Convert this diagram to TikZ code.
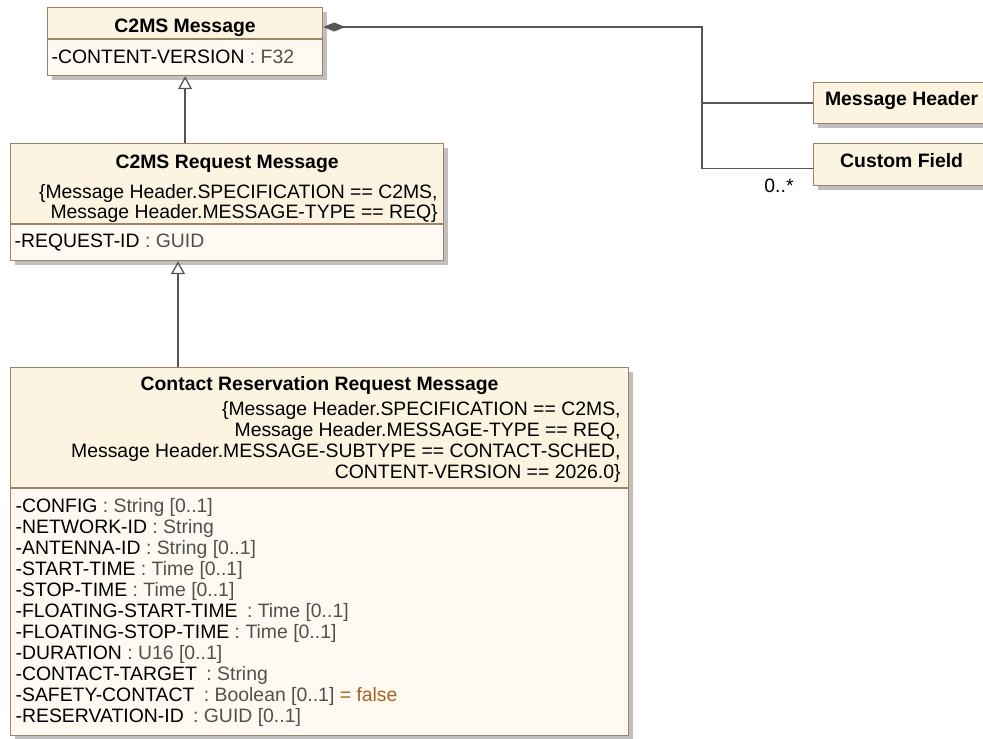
\documentclass[tikz,border=0pt]{standalone}
\usepackage{fontspec}
\setmainfont{Liberation Sans}
\usetikzlibrary{arrows.meta,shadows}
\definecolor{clshead}{HTML}{FCF3E0}
\definecolor{clsbody}{HTML}{FEFAF1}
\definecolor{clsline}{HTML}{9E8467}
\definecolor{typegray}{HTML}{505050}
\definecolor{dfltcol}{HTML}{A8641E}
\definecolor{wirecol}{HTML}{555555}
\newcommand{\umlfont}{\fontsize{19.4}{21}\selectfont}
\newcommand{\attrtype}[1]{\textcolor{typegray}{#1}}

\begin{document}
\begin{tikzpicture}[x=1pt, y=-1pt, line width=1.2pt,
  every node/.append style={font=\umlfont, inner sep=0pt},
  cls/.style={draw=clsline, fill=clshead, anchor=north west,
    general shadow={fill=black!25, shadow xshift=4pt, shadow yshift=-4pt}},
  ttl/.style={font=\umlfont\bfseries, anchor=base},
  attr/.style={anchor=base west},
  cons/.style={anchor=base east},
  wire/.style={draw=wirecol, line width=1.3pt},
  gen/.style={wire, -{Triangle[open, length=13pt, width=14pt]}},
  comp/.style={wire, {Diamond[length=22pt, width=9pt]}-}]
  \clip (0,0) rectangle (983,739);

  % C2MS Message
  \node[cls, minimum width=275, minimum height=68] (msg) at (47,7) {};
  \fill[clsbody] ([shift={(1pt,-32pt)}]msg.north west) rectangle ([shift={(-1pt,1pt)}]msg.south east);
  \draw[clsline] ([yshift=-32pt]msg.north west) -- ([yshift=-32pt]msg.north east);
  \node[ttl] (msgT) at ([yshift=-25pt]msg.north) {C2MS Message};
  \node[attr] (msgA) at ([shift={(4pt,-56pt)}]msg.north west) {-CONTENT-VERSION \attrtype{: F32}};

  % C2MS Request Message
  \node[cls, minimum width=433, minimum height=117] (req) at (10,143) {};
  \fill[clsbody] ([shift={(1pt,-81pt)}]req.north west) rectangle ([shift={(-1pt,1pt)}]req.south east);
  \draw[clsline] ([yshift=-81pt]req.north west) -- ([yshift=-81pt]req.north east);
  \node[ttl] (reqT) at ([yshift=-25pt]req.north) {C2MS Request Message};
  \node[cons] (reqC1) at ([shift={(-6pt,-55pt)}]req.north east) {\{Message Header.SPECIFICATION == C2MS,};
  \node[cons] (reqC2) at ([shift={(-6pt,-75pt)}]req.north east) {Message Header.MESSAGE-TYPE == REQ\}};
  \node[attr] (reqA) at ([shift={(4pt,-104pt)}]req.north west) {-REQUEST-ID \attrtype{: GUID}};

  % Contact Reservation Request Message
  \node[cls, minimum width=618, minimum height=368] (crr) at (10,367) {};
  \fill[clsbody] ([shift={(1pt,-121pt)}]crr.north west) rectangle ([shift={(-1pt,1pt)}]crr.south east);
  \draw[clsline] ([yshift=-121pt]crr.north west) -- ([yshift=-121pt]crr.north east);
  \node[ttl] (crrT) at ([yshift=-23pt]crr.north) {Contact Reservation Request Message};
  \foreach \t [count=\i] in {{\{Message Header.SPECIFICATION == C2MS,},
      {Message Header.MESSAGE-TYPE == REQ,},
      {Message Header.MESSAGE-SUBTYPE == CONTACT-SCHED,},
      {CONTENT-VERSION == 2026.0\}}}
    \node[cons] (crrC\i) at ([shift={(-8pt,{-48pt-21.3pt*(\i-1)})}]crr.north east) {\t};
  \foreach \t [count=\i] in {{-CONFIG \attrtype{: String [0..1]}},
      {-NETWORK-ID \attrtype{: String}},
      {-ANTENNA-ID \attrtype{: String [0..1]}},
      {-START-TIME \attrtype{: Time [0..1]}},
      {-STOP-TIME \attrtype{: Time [0..1]}},
      {-FLOATING-START-TIME\hspace{4pt} \attrtype{: Time [0..1]}},
      {-FLOATING-STOP-TIME \attrtype{: Time [0..1]}},
      {-DURATION \attrtype{: U16 [0..1]}},
      {-CONTACT-TARGET\hspace{4pt} \attrtype{: String}},
      {-SAFETY-CONTACT\hspace{4pt} \attrtype{: Boolean [0..1]} \textcolor{dfltcol}{= false}},
      {-RESERVATION-ID\hspace{4pt} \attrtype{: GUID [0..1]}}}
    \node[attr] (crrA\i) at ([shift={(5pt,{-145pt-21pt*(\i-1)})}]crr.north west) {\t};

  % Message Header, Custom Field
  \node[cls, minimum width=176, minimum height=41] (mh) at (813,82) {};
  \node[ttl] (mhT) at ([yshift=-23pt]mh.north) {Message Header};
  \node[cls, minimum width=176, minimum height=42] (cf) at (813,143) {};
  \node[ttl] (cfT) at ([yshift=-24pt]cf.north) {Custom Field};

  % connectors
  \coordinate (jn) at (702,27);
  \draw[comp] (msg.east |- jn) -- (jn) |- ([yshift=-4pt]cf.west);
  \draw[wire] (jn) |- (mh.west);
  \node[anchor=base] (mult) at (779,192) {0..*};
  \draw[gen] (req.north -| msg.south) -- (msg.south);
  \draw[gen] ([xshift=168pt]crr.north west) -- ([xshift=168pt]req.south west);
\end{tikzpicture}
\end{document}
